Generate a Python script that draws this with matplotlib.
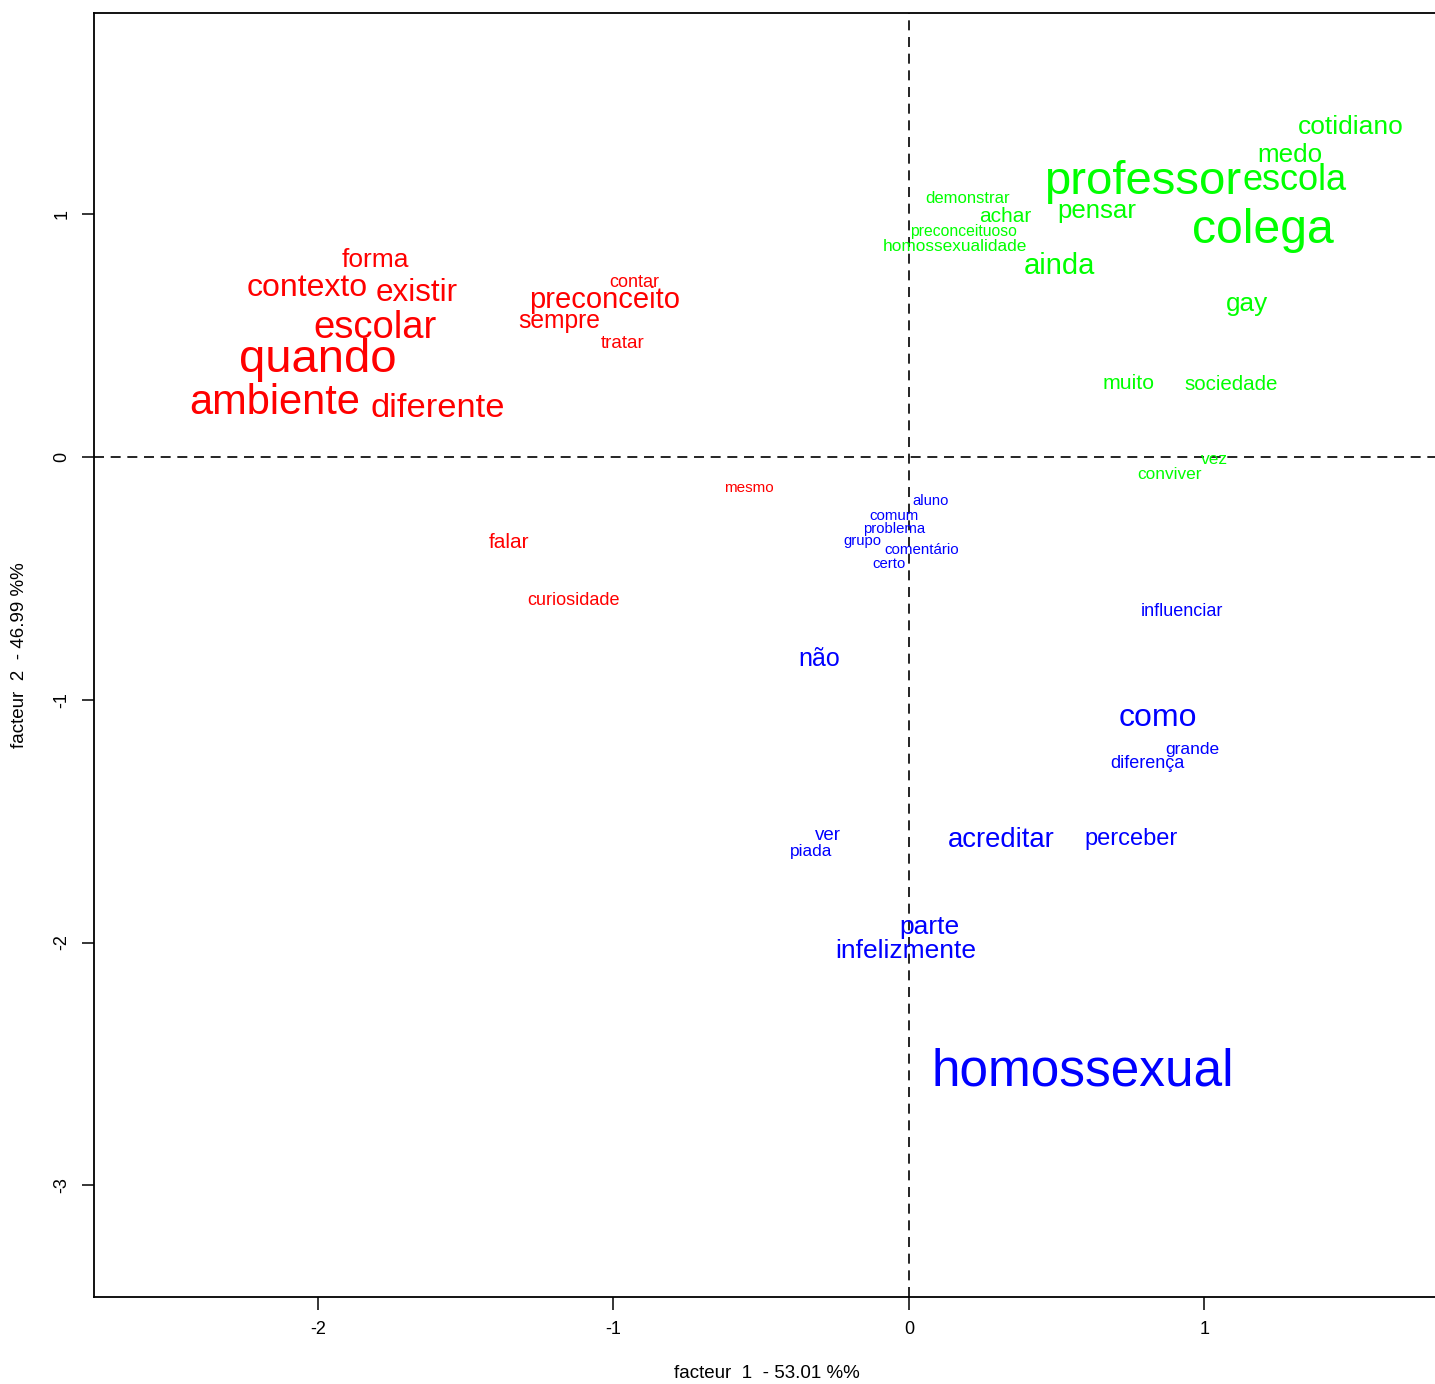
import matplotlib
matplotlib.use("Agg")
import matplotlib.pyplot as plt
import matplotlib.transforms as mtransforms
from matplotlib import font_manager

# ---- data ----
red_words = ["forma", "quando", "ambiente", "escolar", "contexto", "existir", "diferente",
             "preconceito", "sempre", "contar", "tratar", "mesmo", "falar", "curiosidade"]
red_x = [-1.805, -2.001, -2.147, -1.808, -2.035, -1.666, -1.595,
         -1.029, -1.185, -0.931, -0.968, -0.542, -1.354, -1.134]
red_y = [0.820, 0.408, 0.231, 0.540, 0.704, 0.684, 0.210,
         0.655, 0.568, 0.729, 0.474, -0.119, -0.342, -0.581]
red_size = [19, 34, 30, 27.5, 23, 22.6, 24.8, 21, 17.7, 13, 13.5, 11, 15, 13]

green_words = ["cotidiano", "medo", "professor", "escola", "colega", "pensar", "demonstrar",
               "achar", "preconceituoso", "homossexualidade", "ainda", "gay", "muito",
               "sociedade", "vez", "conviver"]
green_x = [1.497, 1.290, 0.792, 1.307, 1.199, 0.637, 0.200,
           0.328, 0.186, 0.156, 0.511, 1.144, 0.745, 1.090, 1.033, 0.884]
green_y = [1.368, 1.252, 1.141, 1.149, 0.943, 1.022, 1.075,
           1.001, 0.939, 0.877, 0.795, 0.639, 0.313, 0.309, -0.004, -0.062]
green_size = [19, 18.7, 34, 26, 34.7, 18.6, 12, 15, 11.3, 12.4, 21, 18.8, 15.3, 14.8, 12.5, 12.4]

blue_words = ["aluno", "comum", "problema", "grupo", "comentário", "certo", "influenciar",
              "não", "como", "grande", "diferença", "ver", "piada", "acreditar", "perceber",
              "parte", "infelizmente", "homossexual"]
blue_x = [0.074, -0.051, -0.051, -0.156, 0.044, -0.068, 0.924,
          -0.305, 0.843, 0.958, 0.809, -0.274, -0.332, 0.312, 0.752,
          0.068, -0.010, 0.589]
blue_y = [-0.173, -0.235, -0.288, -0.338, -0.375, -0.433, -0.630,
          -0.824, -1.067, -1.195, -1.256, -1.549, -1.615, -1.570, -1.565,
          -1.928, -2.027, -2.525]
blue_size = [10.6, 10.8, 10.7, 10.7, 10.9, 10.7, 13, 18, 23, 12.5, 13, 13.5, 12.4, 19.8, 17,
             19, 19, 37]

x_ticks = [-2, -1, 0, 1]
y_ticks = [1, 0, -1, -2, -3]
x_label = "facteur  1  - 53.01 %%"
y_label = "facteur  2  - 46.99 %%"

# ---- fonts ----
avail = {f.name for f in font_manager.fontManager.ttflist}
word_font = "Liberation Sans" if "Liberation Sans" in avail else "DejaVu Sans"
axis_font = "Liberation Sans Narrow" if "Liberation Sans Narrow" in avail else word_font

W, H = 1435, 1384
fig = plt.figure(figsize=(W / 100, H / 100), dpi=100)
left, right, top, bottom = 94, 1435, 13, 1297
ax = fig.add_axes([left / W, (H - bottom) / H, (right - left) / W, (bottom - top) / H])
ax.set_xlim(-2.758, 1.781)
ax.set_ylim(-3.460, 1.829)

for s in ["left", "top", "bottom"]:
    ax.spines[s].set_linewidth(1.3)
ax.spines["right"].set_visible(False)

ax.axhline(0, color="black", lw=1.2, ls=(0, (6, 4)), zorder=1)
ax.axvline(0, color="black", lw=1.2, ls=(0, (6, 4)), zorder=1)

shift = mtransforms.ScaledTranslation(0, -2 / 100, fig.dpi_scale_trans)
for words, xs, ys, sizes, col in [
    (red_words, red_x, red_y, red_size, "#ff0000"),
    (green_words, green_x, green_y, green_size, "#00ff00"),
    (blue_words, blue_x, blue_y, blue_size, "#0000ff"),
]:
    for w, x, y, s in zip(words, xs, ys, sizes):
        ax.text(x, y, w, fontsize=s, color=col, ha="center", va="center",
                family=word_font, zorder=3, transform=ax.transData + shift)

ax.set_xticks(x_ticks)
ax.set_xticklabels([str(t) for t in x_ticks], family=axis_font, fontsize=13)
ax.set_yticks(y_ticks)
ax.set_yticklabels([str(t) for t in y_ticks], family=axis_font, fontsize=13,
                   rotation=90, va="center")
ax.tick_params(axis="both", length=9, width=1.1, pad=8)

fig.text(767 / W, 1 - 1373 / H, x_label, ha="center", va="center",
         family=axis_font, fontsize=13.5)
fig.text(20 / W, 1 - 655 / H, y_label, ha="center", va="center", rotation=90,
         family=axis_font, fontsize=13.5)

fig.savefig("out.png", dpi=100)
